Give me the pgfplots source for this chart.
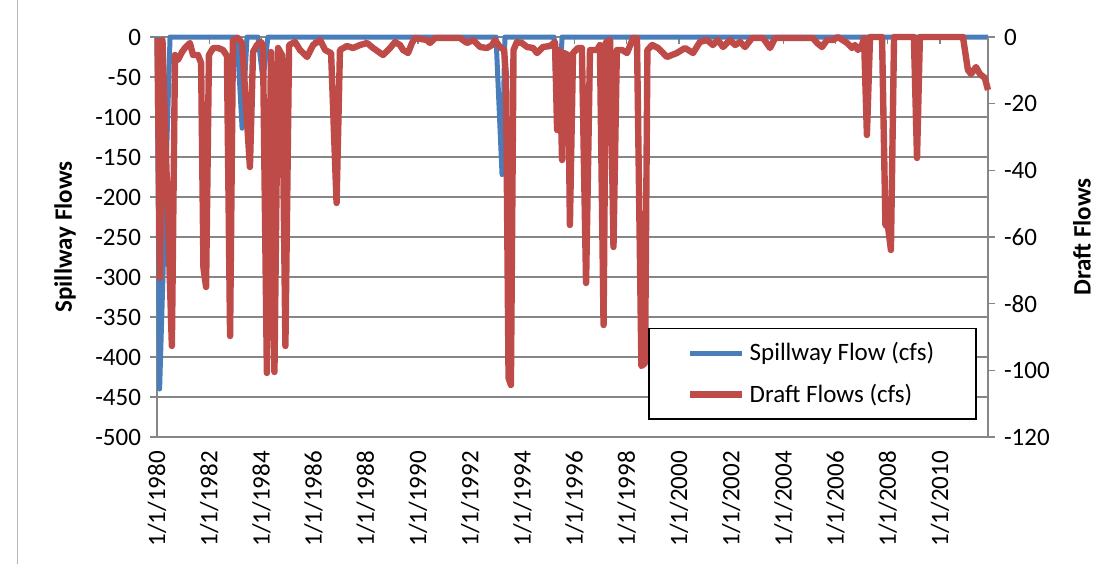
\documentclass[border=0pt]{standalone}
\usepackage{fontspec}
\setmainfont{Carlito}
\usepackage{pgfplots}
\pgfplotsset{compat=1.18}
\definecolor{spill}{RGB}{74,126,187}
\definecolor{draft}{RGB}{190,75,72}
\definecolor{gridgray}{RGB}{134,134,134}

\pgfplotstableread{
x y
1980.00 0
1980.10 -440
1980.50 0
1983.07 0
1983.26 -114
1983.45 0
1983.87 0
1984.06 -54
1984.25 0
1992.99 0
1993.22 -172
1993.33 0
1995.21 0
1995.36 -112
1995.52 0
2011.84 0
}\spilltable

\pgfplotstableread{
x y
1980.02 -0.3
1980.11 -72.3
1980.21 -0.9
1980.57 -92.7
1980.69 -5.4
1980.80 -6.9
1980.96 -4.5
1981.07 -3.3
1981.26 -1.8
1981.38 -5.4
1981.57 -5.4
1981.69 -7.8
1981.78 -69.3
1981.88 -75.0
1981.99 -5.4
1982.15 -3.3
1982.34 -3.3
1982.53 -3.9
1982.68 -5.7
1982.80 -89.7
1982.91 -0.9
1983.10 -0.3
1983.26 -1.8
1983.56 -39.0
1983.68 -4.5
1983.83 -2.4
1983.98 -1.5
1984.06 -2.4
1984.21 -100.8
1984.37 -4.5
1984.50 -100.5
1984.64 -3.3
1984.79 -5.4
1984.92 -92.7
1985.06 -2.4
1985.29 -1.5
1985.48 -3.9
1985.75 -6.0
1985.98 -2.4
1986.25 -0.9
1986.44 -3.9
1986.67 -4.8
1986.88 -49.8
1987.01 -3.9
1987.28 -2.7
1987.51 -3.3
1987.78 -2.4
1988.05 -1.8
1988.28 -3.3
1988.66 -5.4
1988.93 -3.3
1989.12 -1.5
1989.31 -2.4
1989.43 -3.9
1989.62 -4.8
1989.77 -1.8
1989.89 -0.3
1990.34 -0.9
1990.46 -1.8
1990.65 -0.3
1991.61 -0.3
1991.88 -1.8
1992.11 -0.9
1992.38 -3.0
1992.64 -3.3
1992.84 -2.4
1992.95 -0.9
1993.14 -3.0
1993.30 -3.9
1993.37 -12.0
1993.47 -102.3
1993.56 -104.4
1993.66 -3.9
1993.79 -1.5
1993.98 -1.8
1994.18 -3.0
1994.41 -3.3
1994.56 -4.8
1994.79 -3.0
1995.06 -2.7
1995.25 -1.5
1995.33 -27.9
1995.42 -3.9
1995.52 -36.9
1995.59 -4.8
1995.75 -5.4
1995.82 -56.4
1995.94 -4.8
1996.13 -3.3
1996.28 -3.3
1996.44 -73.8
1996.59 -3.9
1996.86 -3.9
1996.97 -2.4
1997.11 -86.4
1997.20 -1.5
1997.36 -0.9
1997.49 -63.0
1997.62 -3.9
1997.82 -3.9
1998.01 -4.8
1998.24 -0.3
1998.39 -0.3
1998.56 -98.7
1998.70 -97.8
1998.79 -3.9
1998.97 -2.4
1999.20 -3.3
1999.54 -6.0
1999.92 -4.8
2000.23 -3.3
2000.54 -4.8
2000.80 -1.5
2001.07 -0.9
2001.30 -2.4
2001.49 -0.9
2001.69 -3.0
2001.95 -0.9
2002.15 -2.4
2002.34 -1.5
2002.53 -3.0
2002.80 -0.3
2003.22 -0.3
2003.49 -3.3
2003.68 -0.3
2005.13 -0.3
2005.29 -1.8
2005.48 -3.0
2005.67 -0.9
2005.90 -0.9
2006.09 0
2006.44 -1.8
2006.63 -3.3
2006.74 -2.4
2006.86 -3.9
2007.01 -2.4
2007.09 -0.3
2007.20 -29.4
2007.32 0
2007.78 0
2007.91 -56.4
2008.01 -57.0
2008.12 -63.9
2008.24 0
2009.00 0
2009.12 -36.3
2009.23 0
2010.88 0
2011.07 -9.9
2011.19 -11.1
2011.38 -9.0
2011.53 -11.1
2011.72 -12.3
2011.84 -15.9
}\drafttable

\begin{document}
\begin{tikzpicture}
\useasboundingbox (-78.5pt,-63.5pt) rectangle (478.5pt,218.5pt);
\draw[gridgray!60, line width=0.5pt] (-69.5pt,-63.5pt) -- (-69.5pt,218.5pt);
\pgfplotsset{
  every axis/.append style={font=\fontsize{12.5}{15}\selectfont},
  /pgf/number format/assume math mode=true,
  legend image code/.code={\draw[#1] (0pt,0pt) -- (26pt,0pt);},
}
\begin{axis}[
  at={(0pt,0pt)}, anchor=south west,
  scale only axis, width=415.5pt, height=200pt,
  xmin=1980, xmax=2011.84, ymin=-500, ymax=0,
  xtick={1980,1982,...,2010},
  xticklabels={1/1/1980,1/1/1982,1/1/1984,1/1/1986,1/1/1988,1/1/1990,1/1/1992,1/1/1994,1/1/1996,1/1/1998,1/1/2000,1/1/2002,1/1/2004,1/1/2006,1/1/2008,1/1/2010},
  xtick pos=right, xticklabel pos=left, xtick align=inside,
  xticklabel style={rotate=90, anchor=east},
  xticklabel shift=3.5pt,
  ytick={-500,-450,...,0},
  ytick pos=left, ytick align=outside,
  yticklabel shift=1pt,
  major tick length=3.5pt,
  ymajorgrids, grid style={gridgray, line width=0.6pt},
  axis line style={gridgray, line width=0.6pt},
  tick style={gridgray, line width=0.6pt},
  ylabel={\bfseries Spillway Flows},
  every axis y label/.style={at={(axis description cs:-0.1107,0.5)}, rotate=90, anchor=center},
  clip=false,
]
\addplot[spill, line width=2.5pt, line join=round] table[x=x,y=y] {\spilltable};
\end{axis}
\begin{axis}[
  at={(0pt,0pt)}, anchor=south west,
  scale only axis, width=415.5pt, height=200pt,
  xmin=1980, xmax=2011.84, ymin=-120, ymax=0,
  axis x line=none, axis y line*=right,
  ytick={-120,-100,...,0}, ytick align=outside,
  yticklabel shift=1pt,
  major tick length=3.5pt,
  axis line style={gridgray, line width=0.6pt},
  tick style={gridgray, line width=0.6pt},
  ylabel={\bfseries Draft Flows},
  every axis y label/.style={at={(axis description cs:1.113,0.5)}, rotate=90, anchor=center},
  clip=false,
  legend cell align=left,
  legend style={at={(axis description cs:0.9868,0.0425)}, anchor=south east,
    draw=black, line width=0.8pt, fill=white,
    inner xsep=19pt, inner ysep=5pt, row sep=6pt,
    nodes={inner sep=2pt},
    font=\fontsize{12.5}{15}\selectfont},
]
\addlegendimage{spill, line width=2.5pt}
\addlegendentry{Spillway Flow (cfs)}
\addplot[draft, line width=3.2pt, line join=round] table[x=x,y=y] {\drafttable};
\addlegendentry{Draft Flows (cfs)}
\end{axis}
\end{tikzpicture}
\end{document}
